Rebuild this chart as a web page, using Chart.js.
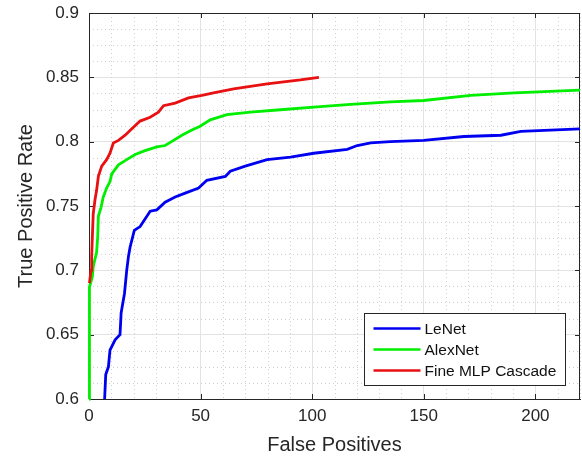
<!DOCTYPE html>
<html>
<head>
<meta charset="utf-8">
<script src="https://cdn.jsdelivr.net/npm/chart.js@4"></script>
<style>
  html, body { margin: 0; padding: 0; background: #fff; }
  #wrap { width: 582px; height: 456px; position: relative; }
</style>
</head>
<body>
<div id="wrap"><canvas id="roc"></canvas></div>
<script>
// ROC-style curves: true positive rate vs number of false positives
const seriesNames = ['LeNet', 'AlexNet', 'Fine MLP Cascade'];
const seriesColors = ['#0000f0', '#00ee00', '#e81010'];

const lenetFP = [7, 7.5, 8.7, 9.4, 11.7, 13.9, 14.4, 15.9, 16.9, 17.7, 18.4, 20.3, 22.9, 27.4,
                 30.4, 34.1, 38.6, 43.1, 49.1, 52.8, 61.1, 63.3, 70, 79.8, 90.3, 100.7, 115.7,
                 120.2, 126.2, 135, 150, 168, 184.6, 193.5, 220];
const lenetTPR = [0.6, 0.619, 0.625, 0.638, 0.646, 0.65, 0.667, 0.682, 0.70, 0.711, 0.718, 0.731,
                  0.734, 0.746, 0.747, 0.753, 0.757, 0.760, 0.764, 0.770, 0.773, 0.777, 0.781,
                  0.786, 0.788, 0.791, 0.794, 0.797, 0.799, 0.800, 0.801, 0.804, 0.805, 0.808, 0.810];

const alexFP = [0, 0, 0.4, 1.5, 1.9, 3.4, 3.9, 4.2, 5.4, 6.4, 7.9, 9.4, 10.2, 13.2, 16.9, 20.7,
                25.1, 30.4, 34.1, 37.9, 41.6, 46.1, 49.8, 54.3, 61.8, 72.3, 87.2, 102.2, 117.2,
                135, 150, 171, 190.5, 220];
const alexTPR = [0.6, 0.685, 0.687, 0.695, 0.703, 0.714, 0.726, 0.742, 0.749, 0.757, 0.764, 0.769,
                 0.775, 0.782, 0.786, 0.790, 0.793, 0.796, 0.797, 0.801, 0.805, 0.809, 0.812,
                 0.817, 0.821, 0.823, 0.825, 0.827, 0.829, 0.831, 0.832, 0.836, 0.838, 0.840];

const mlpFP = [0.2, 0.9, 1.2, 1.5, 1.9, 2.7, 3.4, 4.2, 5.7, 7.9, 9.4, 10.9, 13.2, 16.2, 19.2,
               22.9, 27.4, 31.1, 33.4, 38.6, 44.6, 50.6, 55.8, 64.8, 79.8, 94.7, 103];
const mlpTPR = [0.69, 0.700, 0.711, 0.726, 0.744, 0.755, 0.762, 0.773, 0.781, 0.786, 0.791, 0.799,
                0.801, 0.805, 0.810, 0.816, 0.819, 0.823, 0.828, 0.830, 0.834, 0.836, 0.838,
                0.841, 0.845, 0.848, 0.850];

const xMin = 0, xMax = 220, xStep = 50, xMinorStep = 10;
const yMin = 0.6, yMax = 0.9, yStep = 0.05, yMinorStep = 0.0125;

const TEXT = '#262626';
const FONT = '"Liberation Sans", Arial, Helvetica, sans-serif';

function pts(xs, ys) {
  return xs.map(function (x, i) { return { x: x, y: ys[i] }; });
}

// MATLAB look: dotted minor grid, full box, inward ticks, legend inside the axes
const matlabAxes = {
  id: 'matlabAxes',
  beforeDatasetsDraw: function (chart) {
    const ctx = chart.ctx, a = chart.chartArea;
    const xs = chart.scales.x, ys = chart.scales.y;
    ctx.save();
    ctx.strokeStyle = '#cfcfcf';
    ctx.lineWidth = 1;
    ctx.setLineDash([1, 3]);
    for (let v = xMin; v <= xMax + 1e-9; v += xMinorStep) {
      if (Math.abs(v % xStep) < 1e-9) continue;
      const px = Math.round(xs.getPixelForValue(v)) + 0.5;
      ctx.beginPath(); ctx.moveTo(px, a.top); ctx.lineTo(px, a.bottom); ctx.stroke();
    }
    for (let k = 0; yMin + k * yMinorStep <= yMax + 1e-9; k++) {
      if (k % 4 === 0) continue;
      const py = Math.round(ys.getPixelForValue(yMin + k * yMinorStep)) + 0.5;
      ctx.beginPath(); ctx.moveTo(a.left, py); ctx.lineTo(a.right, py); ctx.stroke();
    }
    ctx.setLineDash([]);
    // box
    ctx.strokeStyle = TEXT;
    ctx.strokeRect(Math.round(a.left) + 0.5, Math.round(a.top) + 0.5,
                   Math.round(a.right - a.left) - 1, Math.round(a.bottom - a.top));
    // inward ticks on all four sides
    const tl = 5;
    xs.ticks.forEach(function (t) {
      const px = Math.round(xs.getPixelForValue(t.value)) + 0.5;
      ctx.beginPath();
      ctx.moveTo(px, a.bottom); ctx.lineTo(px, a.bottom - tl);
      ctx.moveTo(px, a.top); ctx.lineTo(px, a.top + tl);
      ctx.stroke();
    });
    ys.ticks.forEach(function (t) {
      const py = Math.round(ys.getPixelForValue(t.value)) + 0.5;
      ctx.beginPath();
      ctx.moveTo(a.left, py); ctx.lineTo(a.left + tl, py);
      ctx.moveTo(a.right, py); ctx.lineTo(a.right - tl, py);
      ctx.stroke();
    });
    ctx.restore();
  },
  afterDatasetsDraw: function (chart) {
    const ctx = chart.ctx, a = chart.chartArea;
    const w = 201, h = 72;
    const left = Math.round(a.right - 15 - w) + 0.5;
    const top = Math.round(a.bottom - 14 - h) + 0.5;
    ctx.save();
    ctx.fillStyle = '#fff';
    ctx.fillRect(left, top, w, h);
    ctx.strokeStyle = TEXT;
    ctx.lineWidth = 1;
    ctx.strokeRect(left, top, w, h);
    ctx.font = '15.5px ' + FONT;
    ctx.textBaseline = 'middle';
    ctx.textAlign = 'left';
    chart.data.datasets.forEach(function (ds, i) {
      const y = top + 15 + i * 21;
      ctx.strokeStyle = ds.borderColor;
      ctx.lineWidth = 2.6;
      ctx.beginPath(); ctx.moveTo(left + 9, y); ctx.lineTo(left + 56, y); ctx.stroke();
      ctx.fillStyle = '#111';
      ctx.fillText(ds.label, left + 60, y + 1);
    });
    ctx.restore();
  }
};

const datasets = [
  { label: seriesNames[0], data: pts(lenetFP, lenetTPR), order: 2 },
  { label: seriesNames[1], data: pts(alexFP, alexTPR), order: 1 },
  { label: seriesNames[2], data: pts(mlpFP, mlpTPR), order: 0 }
].map(function (d, i) {
  return Object.assign(d, {
    borderColor: seriesColors[i],
    backgroundColor: seriesColors[i],
    borderWidth: 2.8,
    pointRadius: 0,
    tension: 0,
    fill: false,
    clip: false
  });
});

new Chart(document.getElementById('roc'), {
  type: 'line',
  data: { datasets: datasets },
  options: {
    responsive: true,
    maintainAspectRatio: false,
    animation: false,
    layout: { padding: { left: 0, top: 13, right: 2, bottom: 0 } },
    plugins: { legend: { display: false }, tooltip: { enabled: false } },
    scales: {
      x: {
        type: 'linear',
        min: xMin, max: xMax,
        afterBuildTicks: function (s) {
          s.ticks = s.ticks.filter(function (t) { return t.value % xStep === 0; });
        },
        afterFit: function (s) {
          s.height = 57; s.paddingLeft = 0; s.paddingRight = 0;
        },
        ticks: { stepSize: xStep, color: TEXT, padding: 7, maxRotation: 0,
                 font: { family: FONT, size: 17 } },
        grid: { color: '#e3e3e3', lineWidth: 1, drawTicks: false },
        border: { display: true, color: TEXT, width: 1 },
        title: { display: true, text: 'False Positives', color: TEXT,
                 padding: { top: 0, bottom: 0 },
                 font: { family: FONT, size: 20, lineHeight: 1.1 } }
      },
      y: {
        min: yMin, max: yMax,
        afterFit: function (s) {
          s.width = 89; s.paddingTop = 0; s.paddingBottom = 0;
        },
        ticks: { stepSize: yStep, color: TEXT, padding: 10,
                 font: { family: FONT, size: 17 },
                 callback: function (v) { return String(+v.toFixed(2)); } },
        grid: { color: '#e3e3e3', lineWidth: 1, drawTicks: false },
        border: { display: true, color: TEXT, width: 1 },
        title: { display: true, text: 'True Positive Rate', color: TEXT,
                 padding: { top: 15, bottom: 0 },
                 font: { family: FONT, size: 20, lineHeight: 1.1 } }
      }
    }
  },
  plugins: [matlabAxes]
});
</script>
</body>
</html>
